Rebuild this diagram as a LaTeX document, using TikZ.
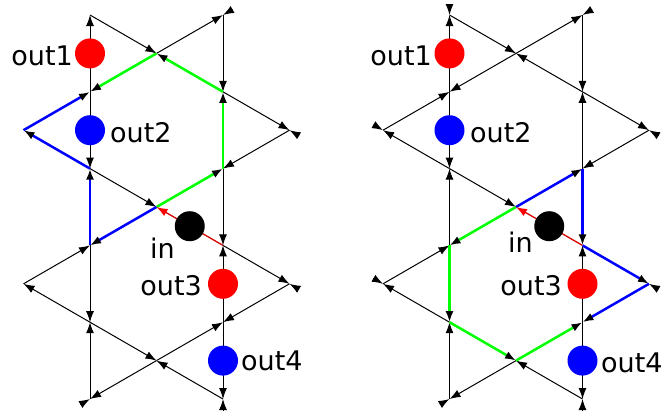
\documentclass[tikz,border=0pt]{standalone}
\usepackage{fontspec}
\setmainfont{DejaVu Sans}
\usetikzlibrary{arrows.meta,calc}
\newcommand\mkpts[2]{%
  \foreach \c/\r in {0/0,2/0,1/1,0/2,2/2,-1/3,3/3,0/4,2/4,1/5,0/6,2/6,-1/7,3/7,0/8,2/8,1/9,0/10,2/10}{%
    \coordinate (#1\c r\r) at ({#2+90+66.5*\c},{15+38.4*\r});}}
\newcommand\mkstubs[2]{%
  \foreach \e/\p in {#2}{%
    \coordinate (#1s\e) at ($(#1\e)!-11pt!(#1\p)$);
    \draw[blk] (#1s\e) -- (#1\e);}}
\begin{document}
\begin{tikzpicture}[x=1pt,y=-1pt,
  blk/.style={line width=1pt,black,-{Latex[length=11pt,width=8pt]}},
  grn/.style={line width=2.5pt,green,-{Latex[length=11pt,width=8pt,color=black]}},
  blu/.style={line width=2.5pt,blue,-{Latex[length=11pt,width=8pt,color=black]}},
  rd/.style={line width=1.3pt,red!85!black,-{Latex[length=11pt,width=8pt,color=red]}},
  portdot/.style={circle,minimum size=30pt,inner sep=0pt,fill=#1},
  lab/.style={inner sep=0pt,font=\fontsize{27}{32}\selectfont},
]
\useasboundingbox (0,0) rectangle (665,418);
% ---------- left panel ----------
\mkpts{L}{0}
\foreach \a/\b in {0r2/0r0,0r2/0r4,0r6/0r8,0r10/0r8,
  2r0/2r2,2r4/2r6,2r8/2r6,2r8/2r10,
  0r0/1r1,2r2/3r3,0r4/1r5,2r6/3r7,
  0r8/-1r7,0r8/1r9,2r10/1r9,
  1r1/2r0,-1r7/0r6,3r3/2r4,
  1r9/0r10,1r9/2r8,3r7/2r8}{\draw[blk] (L\a) -- (L\b);}
\mkstubs{L}{2r0/1r1,3r3/2r2,3r7/2r6,0r10/1r9,2r10/2r8}
\foreach \a/\b in {1r5/2r4,2r4/2r2,2r2/1r1,1r1/0r2}{\draw[grn] (L\a) -- (L\b);}
\foreach \a/\b in {1r5/0r6,0r6/0r4,0r4/-1r3,-1r3/0r2}{\draw[blu] (L\a) -- (L\b);}
\draw[rd] (L2r6) -- (L1r5);
\node[portdot=red]   (Lout1) at ($(L0r0)!0.5!(L0r2)$) {};
\node[portdot=blue]  (Lout2) at ($(L0r2)!0.5!(L0r4)$) {};
\node[portdot=black] (Lin)   at ($(L2r6)!0.5!(L1r5)$) {};
\node[portdot=red]   (Lout3) at ($(L2r6)!0.5!(L2r8)$) {};
\node[portdot=blue]  (Lout4) at ($(L2r8)!0.5!(L2r10)$) {};
\node[lab,anchor=base east] (Lt1) at (73,65) {out1};
\node[lab,anchor=base west] (Lt2) at (110,142) {out2};
\node[lab,anchor=base west] (Lti) at (150,258) {in};
\node[lab,anchor=base east] (Lt3) at (202,295) {out3};
\node[lab,anchor=base west] (Lt4) at (241,370) {out4};
% ---------- right panel ----------
\mkpts{R}{359.5}
\foreach \a/\b in {0r2/0r0,0r2/0r4,0r6/0r4,0r10/0r8,
  2r0/2r2,2r4/2r2,2r8/2r6,2r8/2r10,
  0r0/1r1,2r2/1r1,2r2/3r3,
  0r4/-1r3,0r4/1r5,
  0r8/-1r7,2r10/1r9,
  -1r3/0r2,1r1/0r2,1r1/2r0,
  -1r7/0r6,3r3/2r4,
  1r9/0r10}{\draw[blk] (R\a) -- (R\b);}
\mkstubs{R}{2r0/1r1,3r3/2r2,3r7/2r6,0r10/1r9,2r10/2r8,0r0/0r2,-1r3/0r4,-1r7/0r8}
\foreach \a/\b in {1r5/0r6,0r6/0r8,0r8/1r9,1r9/2r8}{\draw[grn] (R\a) -- (R\b);}
\foreach \a/\b in {1r5/2r4,2r4/2r6,2r6/3r7,3r7/2r8}{\draw[blu] (R\a) -- (R\b);}
\draw[rd] (R2r6) -- (R1r5);
\node[portdot=red]   (Rout1) at ($(R0r0)!0.5!(R0r2)$) {};
\node[portdot=blue]  (Rout2) at ($(R0r2)!0.5!(R0r4)$) {};
\node[portdot=black] (Rin)   at ($(R2r6)!0.5!(R1r5)$) {};
\node[portdot=red]   (Rout3) at ($(R2r6)!0.5!(R2r8)$) {};
\node[portdot=blue]  (Rout4) at ($(R2r8)!0.5!(R2r10)$) {};
\node[lab,anchor=base east] (Rt1) at (432,65) {out1};
\node[lab,anchor=base west] (Rt2) at (470,142) {out2};
\node[lab,anchor=base west] (Rti) at (508,252) {in};
\node[lab,anchor=base east] (Rt3) at (562,295) {out3};
\node[lab,anchor=base west] (Rt4) at (601,372) {out4};
\end{tikzpicture}
\end{document}
